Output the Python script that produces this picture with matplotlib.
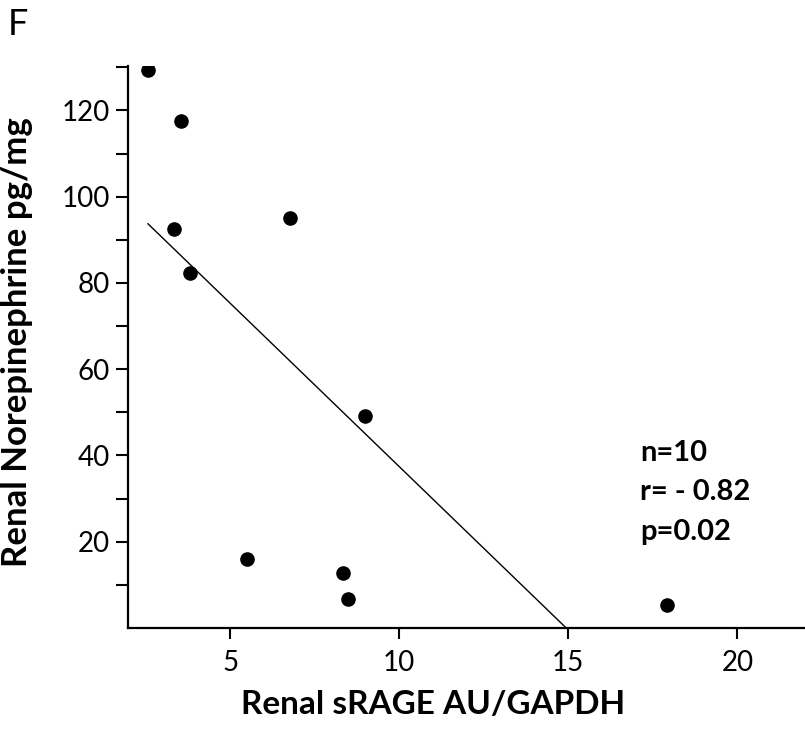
import numpy as np
import matplotlib.pyplot as plt

# values
srage = [2.57, 3.55, 3.34, 3.82, 6.78, 8.99, 5.50, 8.34, 8.49, 17.93]
norepi = [129.3, 117.6, 92.6, 82.4, 95.1, 49.2, 15.9, 12.7, 6.7, 5.3]
x_ticks = [5, 10, 15, 20]
y_ticks = [20, 40, 60, 80, 100, 120]
y_minor = [10, 30, 50, 70, 90, 110, 130]
stats = ["n=10", "r= - 0.82", "p=0.02"]

plt.rcParams['font.family'] = ['Lato', 'DejaVu Sans']

fig = plt.figure(figsize=(8.05, 7.29), dpi=100)
ax = fig.add_axes([0.159, 0.1385, 0.841, 0.771])

ax.scatter(srage, norepi, s=90, color="black", zorder=3)

# least squares fit, drawn from smallest x down to where it meets zero
slope, icpt = np.polyfit(srage, norepi, 1)
x0 = min(srage)
x1 = -icpt / slope
ax.plot([x0, x1], [icpt + slope * x0, 0], color="black", lw=1.0)

ax.set_xlim(1.98, 22.0)
ax.set_ylim(0, 130.3)
ax.set_xticks(x_ticks)
ax.set_yticks(y_ticks)
ax.set_yticks(y_minor, minor=True)
ax.tick_params(axis="both", which="both", direction="out", width=1.5, labelsize=20)
ax.tick_params(axis="x", length=8, pad=8)
ax.tick_params(axis="y", which="both", length=9, pad=4)

for s in ["top", "right"]:
    ax.spines[s].set_visible(False)
for s in ["left", "bottom"]:
    ax.spines[s].set_linewidth(1.6)

ax.set_xlabel("Renal sRAGE AU/GAPDH", fontsize=24, fontweight="bold")
ax.xaxis.label.set_va("baseline")
ax.xaxis.set_label_coords(0.4505, -0.153)
ax.set_ylabel("Renal Norepinephrine pg/mg", fontsize=25, fontweight="bold")
ax.yaxis.set_label_coords(-0.140, 0.509)

for i, t in enumerate(stats):
    ax.text(0.757, 0.311 - i * 0.0698, t, transform=ax.transAxes,
            fontsize=21, fontweight="bold", va="center", ha="left")

fig.text(0.01, 0.966, "F", fontsize=26, va="center", ha="left")

fig.savefig("out.png", dpi=100)
